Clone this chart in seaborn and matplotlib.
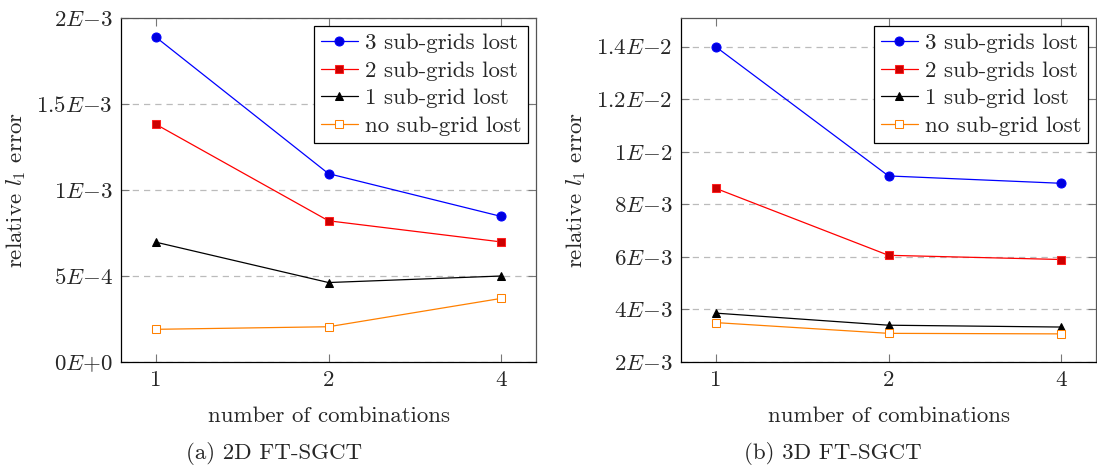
import numpy as np
import pandas as pd
import matplotlib
matplotlib.use("Agg")
import matplotlib.pyplot as plt
import seaborn as sns

# number of combinations (plotted as equally spaced categories)
combos = ["1", "2", "4"]
series = ["3 sub-grids lost", "2 sub-grids lost", "1 sub-grid lost", "no sub-grid lost"]

# 2D FT-SGCT, relative l1 error
err_2d_3 = [1.89e-3, 1.095e-3, 0.846e-3]
err_2d_2 = [1.383e-3, 0.821e-3, 0.698e-3]
err_2d_1 = [0.697e-3, 0.462e-3, 0.500e-3]
err_2d_0 = [0.190e-3, 0.205e-3, 0.370e-3]

# 3D FT-SGCT, relative l1 error
err_3d_3 = [14.0e-3, 9.08e-3, 8.80e-3]
err_3d_2 = [8.61e-3, 6.06e-3, 5.90e-3]
err_3d_1 = [3.86e-3, 3.40e-3, 3.33e-3]
err_3d_0 = [3.50e-3, 3.09e-3, 3.07e-3]

yticks_2d = [0, 5e-4, 1e-3, 1.5e-3, 2e-3]
ylabels_2d = ["$0E{+}0$", "$5E{-}4$", "$1E{-}3$", "$1.5E{-}3$", "$2E{-}3$"]
yticks_3d = [2e-3, 4e-3, 6e-3, 8e-3, 1e-2, 1.2e-2, 1.4e-2]
ylabels_3d = ["$2E{-}3$", "$4E{-}3$", "$6E{-}3$", "$8E{-}3$", "$1E{-}2$", "$1.2E{-}2$", "$1.4E{-}2$"]

sns.set_style("ticks")
plt.rcParams["font.family"] = ["cmr10", "DejaVu Serif"]
plt.rcParams["mathtext.fontset"] = "cm"
plt.rcParams["axes.unicode_minus"] = True

FS = 16.5

styles = {
    "3 sub-grids lost": dict(color="#0000ff", marker="o", markerfacecolor="#0000dd", markeredgecolor="#0000ff", markersize=6.5),
    "2 sub-grids lost": dict(color="#ff0000", marker="s", markerfacecolor="#cc0000", markeredgecolor="#ff2020", markersize=6.3),
    "1 sub-grid lost": dict(color="black", marker="^", markerfacecolor="black", markeredgecolor="black", markersize=6),
    "no sub-grid lost": dict(color="#ff8000", marker="s", markerfacecolor="white", markeredgecolor="#ff8000", markersize=6.3),
}


def make_df(vals):
    rows = []
    for name, v in zip(series, vals):
        for i, c in enumerate(combos):
            rows.append({"pos": i, "combo": c, "series": name, "err": v[i]})
    return pd.DataFrame(rows)


df2 = make_df([err_2d_3, err_2d_2, err_2d_1, err_2d_0])
df3 = make_df([err_3d_3, err_3d_2, err_3d_1, err_3d_0])

fig = plt.figure(figsize=(10.97, 4.69), dpi=100)
ax1 = fig.add_axes([121 / 1097, 107 / 469, 415 / 1097, 344 / 469])
ax2 = fig.add_axes([681 / 1097, 107 / 469, 415 / 1097, 344 / 469])

panels = [
    (ax1, df2, yticks_2d, ylabels_2d, (0, 2e-3), "(a) 2D FT-SGCT", 274.5),
    (ax2, df3, yticks_3d, ylabels_3d, (2e-3, 15.09e-3), "(b) 3D FT-SGCT", 833),
]

for ax, df, yt, yl, ylim, cap, capx in panels:
    for name in series:
        sub = df[df["series"] == name]
        sns.lineplot(data=sub, x="pos", y="err", ax=ax, label=name,
                     linewidth=0.9, zorder=3, **styles[name])
    ax.set_xlim(-0.2, 2.2)
    ax.set_ylim(*ylim)
    ax.set_xticks(range(len(combos)))
    ax.set_xticklabels(combos)
    ax.set_yticks(yt)
    ax.set_yticklabels(yl)
    ax.yaxis.grid(True, linestyle=(0, (5, 4)), color="#bbbbbb", linewidth=0.9)
    ax.xaxis.grid(False)
    ax.tick_params(direction="in", length=6, width=0.8, color="#777777",
                   top=True, right=True, labelsize=FS, pad=6)
    for side in ["left", "bottom"]:
        ax.spines[side].set_color("black")
    for side in ["top", "right"]:
        ax.spines[side].set_color("#555555")
    for s in ax.spines.values():
        s.set_linewidth(0.9)
    ax.set_xlabel("number of combinations", fontsize=FS, labelpad=12)
    ax.set_ylabel("relative $l_1$ error", fontsize=FS, labelpad=6)
    fig.text(capx / 1097, 10 / 469, cap, ha="center", va="baseline", fontsize=FS)
    leg = ax.legend(loc="upper right", fontsize=FS, frameon=True, fancybox=False,
                    edgecolor="black", framealpha=1, borderpad=0.3, labelspacing=0.33,
                    handlelength=1.6, handletextpad=0.3, borderaxespad=0.35)
    leg.get_frame().set_linewidth(0.9)

fig.savefig("out.png", dpi=100)
